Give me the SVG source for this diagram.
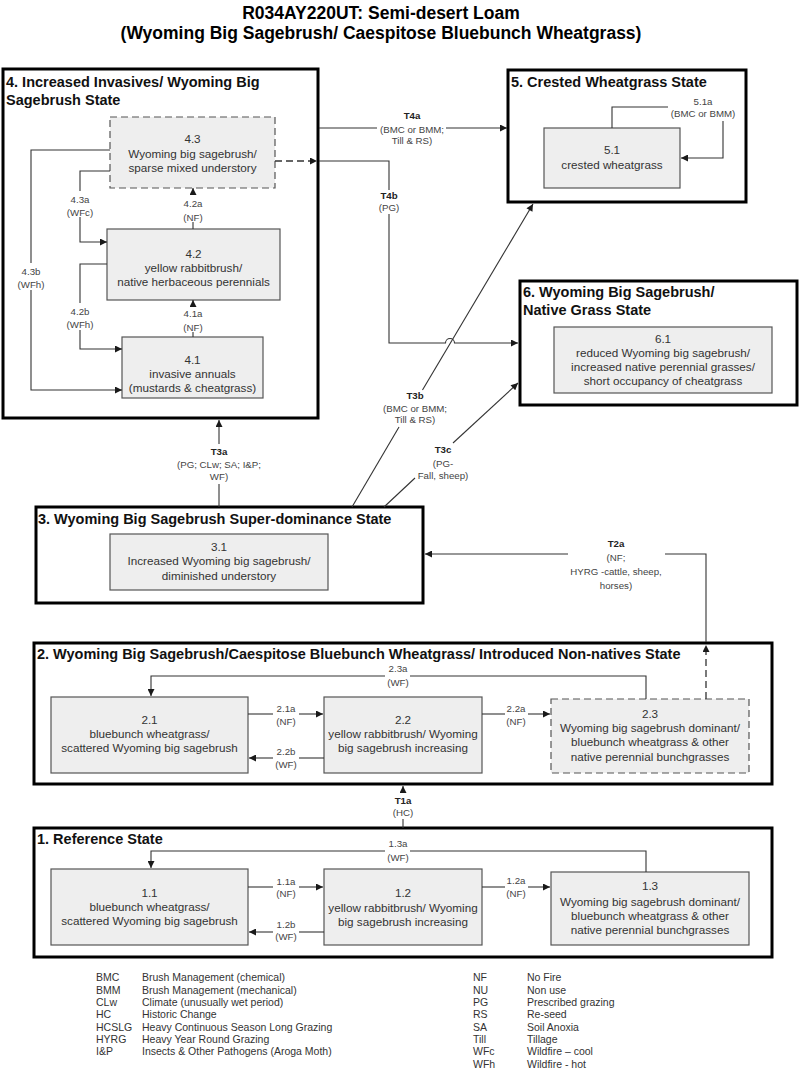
<svg xmlns="http://www.w3.org/2000/svg" width="800" height="1071" viewBox="0 0 800 1071">
<style>
text{font-family:"Liberation Sans",Arial,sans-serif}
.tt{font-size:17.5px;font-weight:bold;fill:#000;text-anchor:middle}
.st{fill:none;stroke:#000;stroke-width:3}
.sl{font-size:14.5px;font-weight:bold;fill:#111}
.nd{fill:#eeeeee;stroke:#555;stroke-width:1.2}
.dsh{stroke-dasharray:7,4}
.nt{font-size:11.7px;fill:#333;text-anchor:middle}
.c{fill:none;stroke:#333;stroke-width:1.1}
.cd{fill:none;stroke:#333;stroke-width:1.3;stroke-dasharray:7,4}
.lb{font-size:9.7px;fill:#444;text-anchor:middle}
.lbb{font-size:9.7px;fill:#222;font-weight:bold;text-anchor:middle}
.lg{font-size:10.5px;fill:#333}
</style>
<defs>
<marker id="ah" viewBox="0 0 10 10" refX="10" refY="5" markerWidth="8" markerHeight="7" orient="auto" markerUnits="userSpaceOnUse"><path d="M0,0 L10,5 L0,10 z" fill="#1a1a1a"/></marker>
</defs>
<rect width="800" height="1071" fill="#fff"/>
<g id="title">
<text class="tt" x="381" y="19">R034AY220UT: Semi-desert Loam</text>
<text class="tt" x="381" y="39">(Wyoming Big Sagebrush/ Caespitose Bluebunch Wheatgrass)</text>
</g>

<g id="state-4">
<rect class="st" x="3" y="69" width="315" height="349"/>
<text class="sl" x="6" y="87">4. Increased Invasives/ Wyoming Big</text>
<text class="sl" x="6" y="105">Sagebrush State</text>
</g>
<g id="node-4-3">
<rect class="nd dsh" x="110" y="117" width="165" height="71"/>
<text class="nt" x="192.5" y="143">4.3</text>
<text class="nt" x="192.5" y="157.5">Wyoming big sagebrush/</text>
<text class="nt" x="192.5" y="172">sparse mixed understory</text>
</g>
<g id="node-4-2">
<rect class="nd" x="107" y="229" width="173" height="71"/>
<text class="nt" x="193.5" y="257.5">4.2</text>
<text class="nt" x="193.5" y="271.5">yellow rabbitbrush/</text>
<text class="nt" x="193.5" y="286">native herbaceous perennials</text>
</g>
<g id="node-4-1">
<rect class="nd" x="122" y="337" width="141" height="61"/>
<text class="nt" x="192.5" y="364">4.1</text>
<text class="nt" x="192.5" y="378">invasive annuals</text>
<text class="nt" x="192.5" y="392">(mustards &amp; cheatgrass)</text>
</g>

<g id="state-5">
<rect class="st" x="508" y="70" width="238" height="132"/>
<text class="sl" x="511" y="87">5. Crested Wheatgrass State</text>
</g>
<g id="node-5-1">
<rect class="nd" x="544" y="128" width="136" height="60"/>
<text class="nt" x="612" y="154">5.1</text>
<text class="nt" x="612" y="169">crested wheatgrass</text>
</g>

<g id="state-6">
<rect class="st" x="520" y="281" width="277" height="124"/>
<text class="sl" x="523" y="297">6. Wyoming Big Sagebrush/</text>
<text class="sl" x="523" y="314.5">Native Grass State</text>
</g>
<g id="node-6-1">
<rect class="nd" x="554" y="327" width="218" height="66"/>
<text class="nt" x="663" y="342.5">6.1</text>
<text class="nt" x="663" y="357">reduced Wyoming big sagebrush/</text>
<text class="nt" x="663" y="370.5">increased native perennial grasses/</text>
<text class="nt" x="663" y="385">short occupancy of cheatgrass</text>
</g>

<g id="state-3">
<rect class="st" x="36" y="507" width="387" height="96"/>
<text class="sl" x="38" y="524">3. Wyoming Big Sagebrush Super-dominance State</text>
</g>
<g id="node-3-1">
<rect class="nd" x="110" y="534" width="218" height="56"/>
<text class="nt" x="219" y="551">3.1</text>
<text class="nt" x="219" y="565">Increased Wyoming big sagebrush/</text>
<text class="nt" x="219" y="580">diminished understory</text>
</g>

<g id="state-2">
<rect class="st" x="34" y="643" width="738" height="141"/>
<text class="sl" x="37" y="659">2. Wyoming Big Sagebrush/Caespitose Bluebunch Wheatgrass/ Introduced Non-natives State</text>
</g>
<g id="node-2-1">
<rect class="nd" x="51" y="697" width="197" height="76"/>
<text class="nt" x="149.5" y="724">2.1</text>
<text class="nt" x="149.5" y="738">bluebunch wheatgrass/</text>
<text class="nt" x="149.5" y="752">scattered Wyoming big sagebrush</text>
</g>
<g id="node-2-2">
<rect class="nd" x="324" y="697" width="158" height="76"/>
<text class="nt" x="403" y="724">2.2</text>
<text class="nt" x="403" y="738">yellow rabbitbrush/ Wyoming</text>
<text class="nt" x="403" y="752">big sagebrush increasing</text>
</g>
<g id="node-2-3">
<rect class="nd dsh" x="551" y="699" width="198" height="74"/>
<text class="nt" x="650" y="717.5">2.3</text>
<text class="nt" x="650" y="732">Wyoming big sagebrush dominant/</text>
<text class="nt" x="650" y="746">bluebunch wheatgrass &amp; other</text>
<text class="nt" x="650" y="760.5">native perennial bunchgrasses</text>
</g>

<g id="state-1">
<rect class="st" x="34" y="828" width="738" height="129"/>
<text class="sl" x="37" y="844">1. Reference State</text>
</g>
<g id="node-1-1">
<rect class="nd" x="51" y="869" width="197" height="76"/>
<text class="nt" x="149.5" y="897">1.1</text>
<text class="nt" x="149.5" y="911">bluebunch wheatgrass/</text>
<text class="nt" x="149.5" y="925">scattered Wyoming big sagebrush</text>
</g>
<g id="node-1-2">
<rect class="nd" x="324" y="869" width="158" height="76"/>
<text class="nt" x="403" y="897">1.2</text>
<text class="nt" x="403" y="911.5">yellow rabbitbrush/ Wyoming</text>
<text class="nt" x="403" y="925.5">big sagebrush increasing</text>
</g>
<g id="node-1-3">
<rect class="nd" x="551" y="872" width="198" height="73"/>
<text class="nt" x="650" y="890">1.3</text>
<text class="nt" x="650" y="905.5">Wyoming big sagebrush dominant/</text>
<text class="nt" x="650" y="920">bluebunch wheatgrass &amp; other</text>
<text class="nt" x="650" y="934">native perennial bunchgrasses</text>
</g>

<g id="connectors">
<!-- 4.1a -->
<path class="c" d="M193,337 V332"/>
<path class="c" d="M193,306 V300" marker-end="url(#ah)"/>
<text class="lb" x="193" y="316.5">4.1a</text>
<text class="lb" x="193" y="330.5">(NF)</text>
<!-- 4.2a -->
<path class="c" d="M193,229 V222"/>
<path class="c" d="M193,195 V188" marker-end="url(#ah)"/>
<text class="lb" x="193" y="206.5">4.2a</text>
<text class="lb" x="193" y="220.5">(NF)</text>
<!-- 4.3a -->
<path class="c" d="M110,171 H80 V191"/>
<path class="c" d="M80,217 V242 H107" marker-end="url(#ah)"/>
<text class="lb" x="80" y="202.5">4.3a</text>
<text class="lb" x="80" y="216">(WFc)</text>
<!-- 4.2b -->
<path class="c" d="M107,264 H80 V303"/>
<path class="c" d="M80,330 V349 H122" marker-end="url(#ah)"/>
<text class="lb" x="80" y="314.5">4.2b</text>
<text class="lb" x="80" y="327.5">(WFh)</text>
<!-- 4.3b -->
<path class="c" d="M110,150 H31 V263"/>
<path class="c" d="M31,290 V390 H122" marker-end="url(#ah)"/>
<text class="lb" x="31" y="274.5">4.3b</text>
<text class="lb" x="31" y="287.5">(WFh)</text>
<!-- T4a -->
<path class="c" d="M319,128 H377"/>
<path class="c" d="M446,128 H507" marker-end="url(#ah)"/>
<text class="lbb" x="412" y="118.5">T4a</text>
<text class="lb" x="412" y="132.5">(BMC or BMM;</text>
<text class="lb" x="412" y="143.5">Till &amp; RS)</text>
<!-- dashed 4.3 out -->
<path class="cd" d="M275,161 H317" marker-end="url(#ah)"/>
<!-- T4b -->
<path class="c" d="M319,161 H389 V190"/>
<path class="c" d="M389,214 V343 H445.5 A4.5,4.5 0 0 1 454.5,343 H518" marker-end="url(#ah)"/>
<text class="lbb" x="389" y="198.5">T4b</text>
<text class="lb" x="389" y="210.5">(PG)</text>
<!-- 5.1a -->
<path class="c" d="M612,128 V107 H668"/>
<path class="c" d="M723,121 V158 H681" marker-end="url(#ah)"/>
<text class="lb" x="703" y="104.5">5.1a</text>
<text class="lb" x="703" y="116.5">(BMC or BMM)</text>
<!-- T3a -->
<path class="c" d="M219,507 V484"/>
<path class="c" d="M219,444 V420" marker-end="url(#ah)"/>
<text class="lbb" x="219" y="454.5">T3a</text>
<text class="lb" x="219" y="468">(PG; CLw; SA; I&amp;P;</text>
<text class="lb" x="219" y="479.5">WF)</text>
<!-- T3b -->
<path class="c" d="M352,507 L399,427"/>
<path class="c" d="M422.5,390 L533,204" marker-end="url(#ah)"/>
<text class="lbb" x="415" y="398.5">T3b</text>
<text class="lb" x="415" y="411.5">(BMC or BMM;</text>
<text class="lb" x="415" y="423">Till &amp; RS)</text>
<!-- T3c -->
<path class="c" d="M384,507 L415,478"/>
<path class="c" d="M453,443 L518,383" marker-end="url(#ah)"/>
<text class="lbb" x="443" y="452.5">T3c</text>
<text class="lb" x="443" y="466.5">(PG-</text>
<text class="lb" x="443" y="478.5">Fall, sheep)</text>
<!-- T2a -->
<path class="cd" d="M706,699 V645" marker-end="url(#ah)"/>
<path class="c" d="M706,642 V554 H665"/>
<path class="c" d="M568,554 H425" marker-end="url(#ah)"/>
<text class="lbb" x="616" y="546.5">T2a</text>
<text class="lb" x="616" y="560.5">(NF;</text>
<text class="lb" x="616" y="574.5">HYRG -cattle, sheep,</text>
<text class="lb" x="616" y="588.5">horses)</text>
<!-- 2.1a -->
<path class="c" d="M248,714 H273"/>
<path class="c" d="M299,714 H323" marker-end="url(#ah)"/>
<text class="lb" x="286" y="711.5">2.1a</text>
<text class="lb" x="286" y="724.5">(NF)</text>
<!-- 2.2b -->
<path class="c" d="M324,758 H299"/>
<path class="c" d="M273,758 H249" marker-end="url(#ah)"/>
<text class="lb" x="286" y="755">2.2b</text>
<text class="lb" x="286" y="768">(WF)</text>
<!-- 2.2a -->
<path class="c" d="M482,714 H505"/>
<path class="c" d="M528,714 H550" marker-end="url(#ah)"/>
<text class="lb" x="516" y="711.5">2.2a</text>
<text class="lb" x="516" y="724.5">(NF)</text>
<!-- 2.3a -->
<path class="c" d="M646,699 V676 H410"/>
<path class="c" d="M385,676 H151 V696" marker-end="url(#ah)"/>
<text class="lb" x="398" y="671.5">2.3a</text>
<text class="lb" x="398" y="685.5">(WF)</text>
<!-- T1a -->
<path class="c" d="M403,828 V819"/>
<path class="c" d="M403,792 V786" marker-end="url(#ah)"/>
<text class="lbb" x="403" y="803.5">T1a</text>
<text class="lb" x="403" y="815.5">(HC)</text>
<!-- 1.1a -->
<path class="c" d="M248,887 H273"/>
<path class="c" d="M299,887 H323" marker-end="url(#ah)"/>
<text class="lb" x="286" y="884.5">1.1a</text>
<text class="lb" x="286" y="896.5">(NF)</text>
<!-- 1.2b -->
<path class="c" d="M324,932 H299"/>
<path class="c" d="M273,932 H249" marker-end="url(#ah)"/>
<text class="lb" x="286" y="927.5">1.2b</text>
<text class="lb" x="286" y="940">(WF)</text>
<!-- 1.2a -->
<path class="c" d="M482,887 H505"/>
<path class="c" d="M528,887 H550" marker-end="url(#ah)"/>
<text class="lb" x="516" y="883.5">1.2a</text>
<text class="lb" x="516" y="896.5">(NF)</text>
<!-- 1.3a -->
<path class="c" d="M646,872 V851 H410"/>
<path class="c" d="M385,851 H151 V868" marker-end="url(#ah)"/>
<text class="lb" x="398" y="846.5">1.3a</text>
<text class="lb" x="398" y="860.5">(WF)</text>
</g>

<g id="legend">
<text class="lg" x="96" y="981">BMC</text><text class="lg" x="142" y="981">Brush Management (chemical)</text>
<text class="lg" x="96" y="993.5">BMM</text><text class="lg" x="142" y="993.5">Brush Management (mechanical)</text>
<text class="lg" x="96" y="1006">CLw</text><text class="lg" x="142" y="1006">Climate (unusually wet period)</text>
<text class="lg" x="96" y="1018">HC</text><text class="lg" x="142" y="1018">Historic Change</text>
<text class="lg" x="96" y="1030.5">HCSLG</text><text class="lg" x="142" y="1030.5">Heavy Continuous Season Long Grazing</text>
<text class="lg" x="96" y="1043">HYRG</text><text class="lg" x="142" y="1043">Heavy Year Round Grazing</text>
<text class="lg" x="96" y="1055">I&amp;P</text><text class="lg" x="142" y="1055">Insects &amp; Other Pathogens (Aroga Moth)</text>
<text class="lg" x="473" y="981">NF</text><text class="lg" x="527" y="981">No Fire</text>
<text class="lg" x="473" y="993.5">NU</text><text class="lg" x="527" y="993.5">Non use</text>
<text class="lg" x="473" y="1006">PG</text><text class="lg" x="527" y="1006">Prescribed grazing</text>
<text class="lg" x="473" y="1018">RS</text><text class="lg" x="527" y="1018">Re-seed</text>
<text class="lg" x="473" y="1030.5">SA</text><text class="lg" x="527" y="1030.5">Soil Anoxia</text>
<text class="lg" x="473" y="1043">Till</text><text class="lg" x="527" y="1043">Tillage</text>
<text class="lg" x="473" y="1055">WFc</text><text class="lg" x="527" y="1055">Wildfire – cool</text>
<text class="lg" x="473" y="1067.5">WFh</text><text class="lg" x="527" y="1067.5">Wildfire - hot</text>
</g>
</svg>
